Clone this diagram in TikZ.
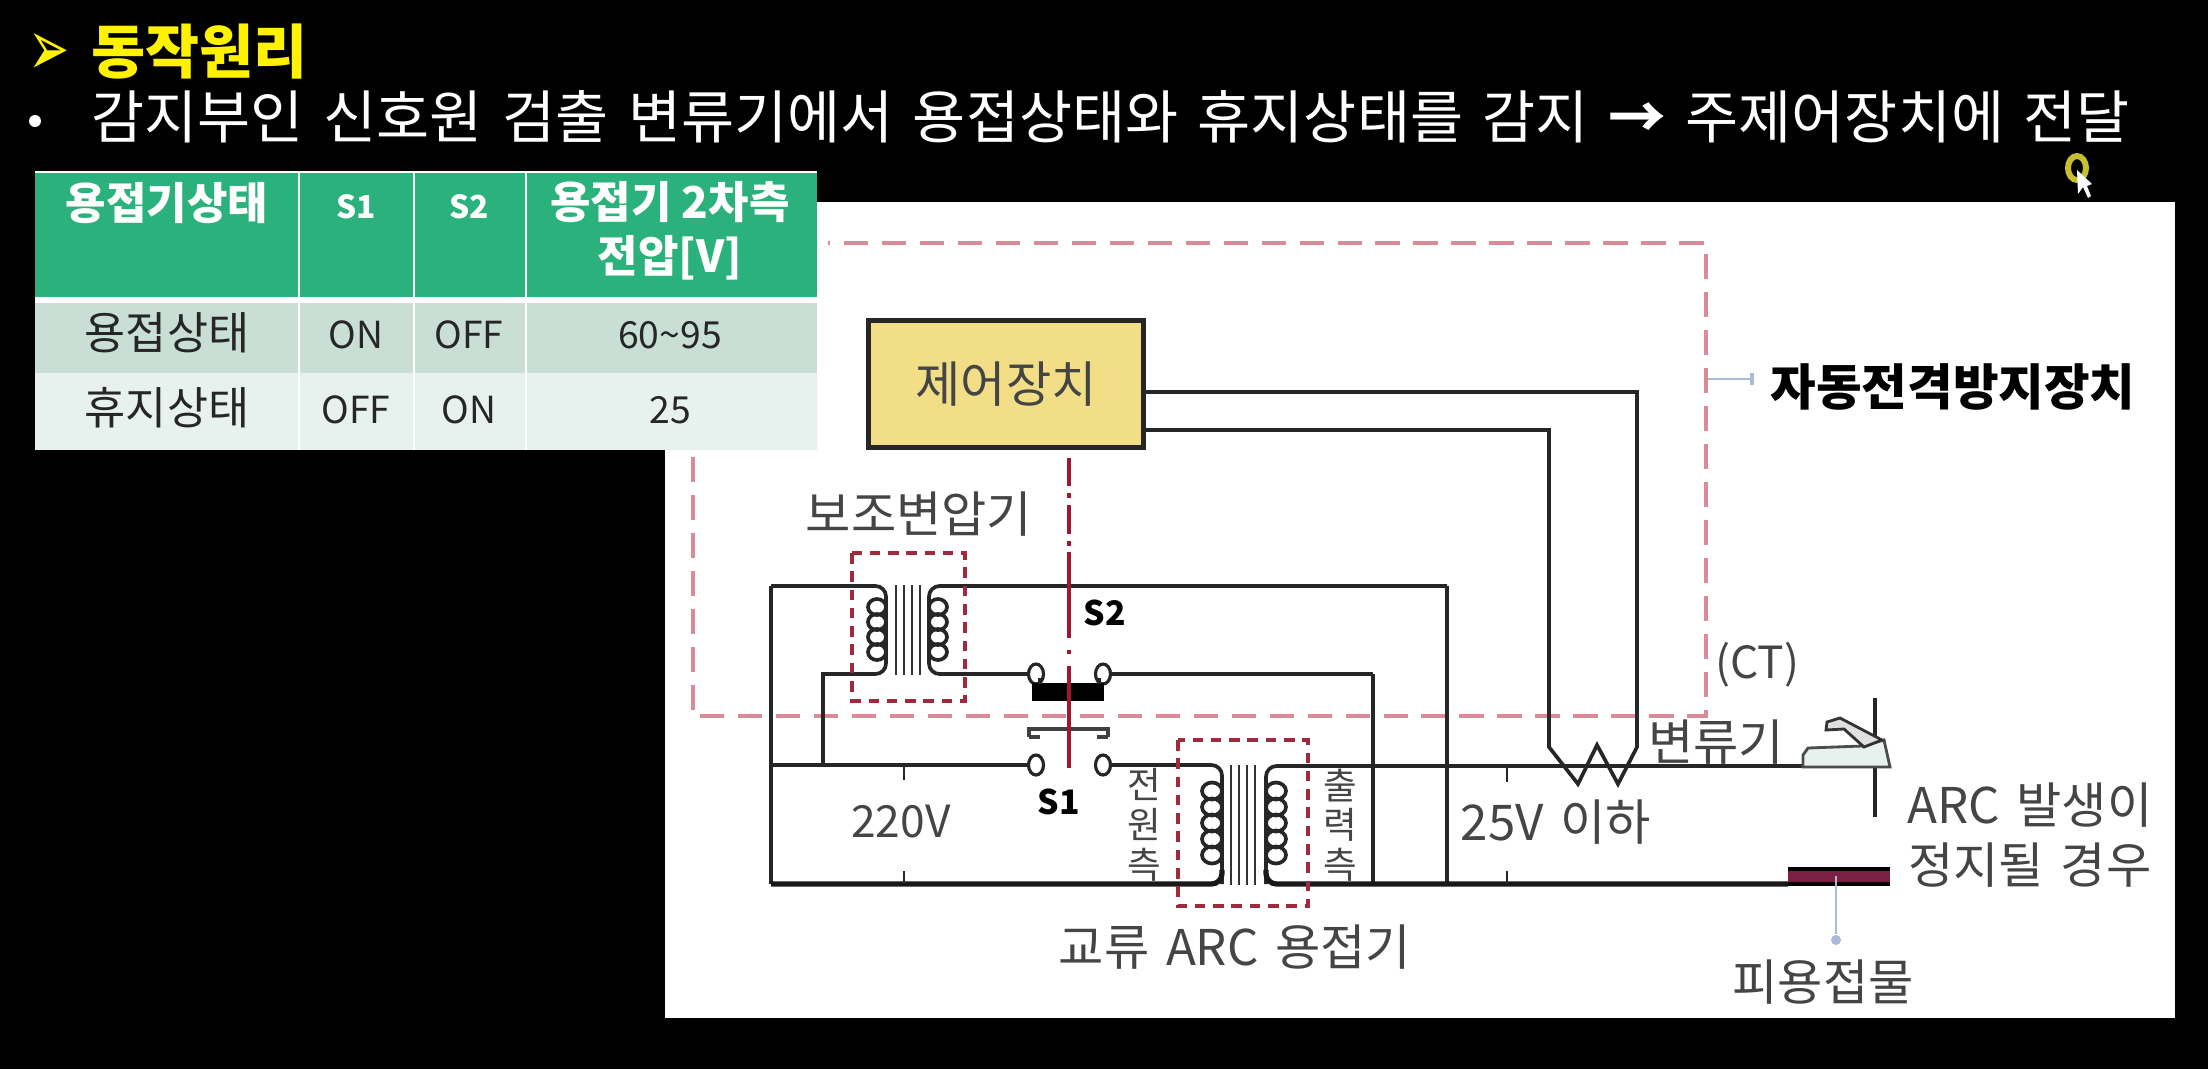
\documentclass[tikz,border=0pt]{standalone}
\usepackage{fontspec}
\setmainfont{Noto Sans CJK KR}
\newfontfamily\symfont{DejaVu Sans}
\usetikzlibrary{shapes}

\definecolor{headgreen}{HTML}{2BB27C}
\definecolor{rowdark}{HTML}{C9DFD6}
\definecolor{rowlight}{HTML}{E7F1ED}
\definecolor{boxyellow}{HTML}{F3DE88}
\definecolor{dashpink}{HTML}{D98C98}
\definecolor{dashred}{HTML}{A02A3C}
\definecolor{ctrlred}{HTML}{A01830}
\definecolor{workred}{HTML}{7C1F45}
\definecolor{labelgray}{HTML}{454545}
\definecolor{leaderblue}{HTML}{A9BBD8}

\newcommand{\widespace}{\spaceskip 0.34em\relax}

\tikzset{
  wire/.style={line width=1.05pt,black!85},
  heavywire/.style={line width=1.5pt,black!90},
  coreline/.style={line width=0.6pt,black!80},
  coilloop/.style={line width=1.05pt,black!85},
  fig/.style={text=labelgray,font=\fontsize{14}{17}\selectfont\widespace,inner sep=0pt,align=center},
  cell/.style={text=black!85,font=\fontsize{10.6}{13}\selectfont,inner sep=0pt,align=center},
  headcell/.style={text=white,font=\fontsize{12.5}{15.5}\selectfont\bfseries,inner sep=0pt,align=center},
  contact/.style={draw=black!85,line width=0.9pt,fill=white,ellipse,minimum width=0.15cm,minimum height=0.2cm,inner sep=0pt},
  fencedash/.style={draw=dashpink,line width=1.2pt,dash pattern=on 7pt off 3.8pt},
  unitdash/.style={draw=dashred,line width=0.9pt,dash pattern=on 3pt off 2.2pt}
}

\begin{document}
\begin{tikzpicture}[x=0.01cm,y=-0.01cm]

%%%%%%%%%%%%%%%%%%%%%%%%%%%%%%%%%%%%%%%%%%%%%%%%%%%%%%%%%%%%%%%%
% Slide
%%%%%%%%%%%%%%%%%%%%%%%%%%%%%%%%%%%%%%%%%%%%%%%%%%%%%%%%%%%%%%%%

\fill[black] (0,0) rectangle (2208,1069);
\fill[white] (665,202) rectangle (2175,1018);

\node[text=yellow,font=\symfont\fontsize{14}{16}\selectfont,inner sep=0pt,yscale=1.6] (mark) at (49,54) {➢};
\node[text=yellow,anchor=west,font=\fontsize{16.7}{20}\selectfont\bfseries,inner sep=0pt] (title) at (91,52) {동작원리};
\fill[white] (35,121) circle (6);
\node[text=white,anchor=west,font=\fontsize{16.4}{20}\selectfont\widespace,inner sep=0pt] (body) at (91,117) {감지부인 신호원 검출 변류기에서 용접상태와 휴지상태를 감지 \textbf{→} 주제어장치에 전달};

%%%%%%%%%%%%%%%%%%%%%%%%%%%%%%%%%%%%%%%%%%%%%%%%%%%%%%%%%%%%%%%%
% Table
%%%%%%%%%%%%%%%%%%%%%%%%%%%%%%%%%%%%%%%%%%%%%%%%%%%%%%%%%%%%%%%%

% Border
\fill[white] (35,171) rectangle (817,450);
\fill[headgreen] (35,173) rectangle (817,297);
\fill[rowdark] (35,303) rectangle (817,373);
\fill[rowlight] (35,373) rectangle (817,450);
\foreach \colx in {299,414,526} {
  \draw[white,line width=0.5pt] (\colx,171) -- (\colx,450);
}

% Different components
\node[headcell] (t_state) at (167,203) {용접기상태};
\node[headcell,font=\fontsize{9}{11}\selectfont\bfseries] (t_s1) at (356,207) {S1};
\node[headcell,font=\fontsize{9}{11}\selectfont\bfseries] (t_s2) at (469,207) {S2};
\node[headcell] (t_volt) at (670,231) {용접기 2차측\\전압[V]};

\node[cell,font=\fontsize{12.7}{15}\selectfont] (t_weld) at (167,333) {용접상태};
\node[cell] (t_weld1) at (356,335) {ON};
\node[cell] (t_weld2) at (469,335) {OFF};
\node[cell] (t_weld3) at (670,335) {60\textasciitilde95};

\node[cell,font=\fontsize{12.7}{15}\selectfont] (t_idle) at (167,408) {휴지상태};
\node[cell] (t_idle1) at (356,410) {OFF};
\node[cell] (t_idle2) at (469,410) {ON};
\node[cell] (t_idle3) at (670,410) {25};

%%%%%%%%%%%%%%%%%%%%%%%%%%%%%%%%%%%%%%%%%%%%%%%%%%%%%%%%%%%%%%%%
% Control unit
%%%%%%%%%%%%%%%%%%%%%%%%%%%%%%%%%%%%%%%%%%%%%%%%%%%%%%%%%%%%%%%%

% Border
\draw[fencedash] (693,457) -- (693,716) -- (1706,716) -- (1706,243) -- (828,243);
\node[fig,text=black,font=\fontsize{14.1}{17}\selectfont\bfseries] (f_guard) at (1953,387) {자동전격방지장치};
\coordinate (guard_tap) at (1708,379);
\draw[leaderblue,line width=0.7pt] (guard_tap) -- (1752,379);
\draw[leaderblue,line width=0.9pt] (1752,373) -- (1752,385);

% Box
\node[draw=black!85,line width=1.2pt,fill=boxyellow,minimum width=2.75cm,minimum height=1.27cm,inner sep=0pt,text=labelgray,font=\fontsize{14}{17}\selectfont] (ctrl) at (1006,384) {제어장치};

% Current transformer wires
\coordinate (ct_r) at (1637,392);
\coordinate (ct_l) at (1549,430);
\draw[wire] (ctrl.east |- ct_r) -- (ct_r) -- (1637,747) -- (1618,784) -- (1597,745) -- (1578,784) -- (1549,747) -- (ct_l) -- (ctrl.east |- ct_l);

%%%%%%%%%%%%%%%%%%%%%%%%%%%%%%%%%%%%%%%%%%%%%%%%%%%%%%%%%%%%%%%%
% Circuit
%%%%%%%%%%%%%%%%%%%%%%%%%%%%%%%%%%%%%%%%%%%%%%%%%%%%%%%%%%%%%%%%

% Contacts
\node[contact] (s2_l) at (1036,674) {};
\node[contact] (s2_r) at (1103,674) {};
\node[contact] (s1_l) at (1036,765) {};
\node[contact] (s1_r) at (1103,765) {};

% Rails
\coordinate (rail_tl) at (771,586);
\coordinate (rail_ml) at (771,765);
\coordinate (rail_bl) at (771,884);
\coordinate (rail_tr) at (1447,586);
\coordinate (rail_br) at (1447,884);
\coordinate (rail_end) at (1890,766);

\draw[wire] (s1_l) -- (rail_ml);
\draw[wire] (rail_tl) -- (rail_bl);
\draw[wire] (rail_tr) -- (rail_br);
\draw[wire] (1373,674) -- (1373,884);
\draw[wire] (823,765) -- (823,674) -- (840,674);
\draw[wire] (s2_r) -- (1373,674);

% Auxiliary transformer
\draw[wire,rounded corners=3pt] (rail_tl) -- (886,586) -- (886,674) -- (823,674);
\draw[wire,rounded corners=3pt] (rail_tr) -- (929,586) -- (929,674) -- (s2_l);
\foreach \coilx in {896,904,912,920} {
  \draw[coreline] (\coilx,585) -- (\coilx,675);
}
\foreach \coily in {607,622,637,652} {
  \draw[coilloop] (877,\coily) ellipse (9 and 8);
  \draw[coilloop] (938,\coily) ellipse (9 and 8);
}
\draw[unitdash] (852,553) rectangle (965,701);

% Welder transformer
\draw[wire,rounded corners=3pt] (s1_r) -- (1222,765) -- (1222,884);
\draw[wire,rounded corners=3pt] (rail_end) -- (1266,766) -- (1266,884);
\draw[heavywire,rounded corners=3pt] (rail_bl) -- (1222,884) -- (1222,870);
\draw[heavywire,rounded corners=3pt] (1788,884) -- (1266,884) -- (1266,870);
\foreach \coilx in {1231,1239,1247,1255} {
  \draw[coreline] (\coilx,765) -- (\coilx,885);
}
\foreach \coily in {791,807,823,839,855} {
  \draw[coilloop] (1212,\coily) ellipse (10 and 8.5);
  \draw[coilloop] (1276,\coily) ellipse (10 and 8.5);
}
\draw[unitdash] (1178,740) rectangle (1308,906);

% Switches
\fill[black] (1032,683) rectangle (1104,701);
\draw[wire] (1040,678) -- (1040,684);
\draw[wire] (1099,678) -- (1099,684);
\draw[line width=0.9pt,black!75] (1029,737) -- (1029,729) -- (1108,729) -- (1108,737);
\draw[line width=1.4pt,black!75] (1040,737) -- (1029,737);
\draw[line width=1.4pt,black!75] (1097,737) -- (1108,737);

% Control line
\draw[ctrlred,line width=0.9pt,dash pattern=on 8pt off 2pt on 1.5pt off 2pt] (1069,458) -- (1069,552);
\draw[ctrlred,line width=0.9pt] (1069,552) -- (1069,638);
\draw[ctrlred,line width=0.9pt] (1069,650) -- (1069,654);
\draw[ctrlred,line width=0.9pt] (1069,666) -- (1069,768);

% Voltage ticks
\draw[wire,line width=0.7pt] (904,765) -- (904,780);
\draw[wire,line width=0.7pt] (904,884) -- (904,871);
\draw[wire,line width=0.7pt] (1507,766) -- (1507,782);
\draw[wire,line width=0.7pt] (1507,884) -- (1507,871);

% Holder and workpiece
\draw[wire] (1875,698) -- (1875,817);
\draw[line width=0.8pt,black!70,fill=rowlight] (1803,767) -- (1803,755) -- (1808,748) -- (1862,746) -- (1884,740) -- (1890,767) -- cycle;
\draw[line width=0.8pt,black!80,fill=black!12] (1826,730) -- (1827,722) -- (1840,718) -- (1882,740) -- (1864,747) -- (1844,729) -- cycle;
\fill[workred] (1788,868) rectangle (1890,885);
\draw[line width=1pt,black] (1788,869) -- (1890,869);
\draw[line width=1.2pt,black] (1788,884) -- (1890,884);
\coordinate (work_tap) at (1836,876);
\node[fill=leaderblue,circle,minimum size=0.1cm,inner sep=0pt] (work_dot) at (1836,940) {};
\draw[leaderblue,line width=0.7pt] (work_tap) -- (work_dot);

% Labels
\node[fig] (f_aux) at (919,514) {보조변압기};
\node[fig,text=black,font=\fontsize{9.6}{12}\selectfont\bfseries] (f_s2) at (1105,613) {S2};
\node[fig,text=black,font=\fontsize{9.6}{12}\selectfont\bfseries] (f_s1) at (1059,802) {S1};
\node[fig,font=\fontsize{12.6}{15}\selectfont] (f_220) at (901,822) {220V};
\node[fig,font=\fontsize{10.4}{11.3}\selectfont] (f_in) at (1144,825) {전\\원\\측};
\node[fig,font=\fontsize{10.4}{11.3}\selectfont] (f_out) at (1340,825) {출\\력\\측};
\node[fig] (f_welder) at (1235,947) {교류 ARC 용접기};
\node[fig] (f_25) at (1556,822) {25V 이하};
\node[fig,font=\fontsize{12.6}{15}\selectfont] (f_ct) at (1757,665) {(CT)};
\node[fig] (f_cvt) at (1716,742) {변류기};
\node[fig] (f_arc) at (2030,835) {ARC 발생이\\정지될 경우};
\node[fig] (f_work) at (1823,982) {피용접물};

% Pointer
\draw[yellow!75!black,line width=1.7pt] (2077,168) ellipse (9 and 12);
\fill[white] (2077,170) -- (2078,194) -- (2083,187) -- (2088,198) -- (2091,196) -- (2087,186) -- (2092,184) -- cycle;

\end{tikzpicture}
\end{document}
